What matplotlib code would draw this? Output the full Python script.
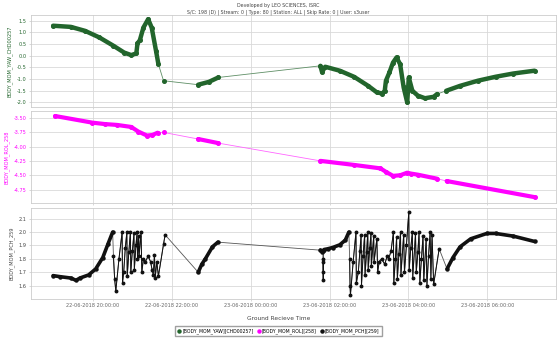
import datetime as dt
import matplotlib
matplotlib.use("Agg")
import matplotlib.pyplot as plt
import matplotlib.dates as mdates
from matplotlib.lines import Line2D

# hours from 22-06-2018 00:00, one list per telemetry pass
yaw_t = [
    [18.99, 19.44, 19.80, 20.16, 20.52, 20.79, 20.97, 21.10, 21.13, 21.19, 21.28, 21.40, 21.49, 21.60, 21.66],
    [21.79],
    [22.67, 22.94, 23.18],
    [25.77, 25.81, 25.89, 26.26, 26.62, 26.98, 27.20, 27.34, 27.40, 27.43, 27.52, 27.61, 27.70, 27.79,
     27.88, 27.97, 28.01, 28.10, 28.24, 28.42, 28.64, 28.73],
    [28.96, 29.31, 29.76, 30.21, 30.66, 31.20],
]
yaw_v = [
    [1.29, 1.24, 1.07, 0.79, 0.43, 0.14, 0.03, 0.10, 0.53, 0.67, 1.21, 1.57, 1.21, 0.21, -0.36],
    [-1.07],
    [-1.24, -1.12, -0.93],
    [-0.43, -0.70, -0.47, -0.64, -0.90, -1.29, -1.57, -1.62, -1.50, -1.07, -0.71, -0.29, -0.07, -0.36,
     -1.36, -2.00, -0.93, -1.50, -1.71, -1.82, -1.76, -1.64],
    [-1.50, -1.29, -1.07, -0.90, -0.76, -0.64],
]

roll_t = [
    [19.04, 19.98, 20.30, 20.61, 20.97, 21.15, 21.37, 21.51, 21.64],
    [21.79],
    [22.67, 23.17],
    [25.77, 26.62, 27.29, 27.43, 27.61, 27.79, 27.97, 28.06, 28.24, 28.73],
    [28.97, 31.20],
]
roll_v = [
    [-3.47, -3.585, -3.61, -3.625, -3.66, -3.74, -3.81, -3.80, -3.76],
    [-3.755],
    [-3.87, -3.94],
    [-4.25, -4.32, -4.38, -4.44, -4.51, -4.50, -4.455, -4.47, -4.49, -4.56],
    [-4.60, -4.88],
]

# pitch: smooth stretches and the oscillating stretches
pitch_smooth_t = [
    [18.99, 19.17, 19.44, 19.57, 19.67, 19.89, 20.07, 20.25, 20.38, 20.50],
    [22.67, 22.76, 22.85, 23.03, 23.17],
    [25.77, 25.80, 25.83, 25.86, 25.95, 26.08, 26.26, 26.40, 26.49],
    [28.98, 29.13, 29.31, 29.58, 29.99, 30.21, 30.66, 31.20],
]
pitch_smooth_v = [
    [1.675, 1.667, 1.657, 1.640, 1.657, 1.680, 1.725, 1.810, 1.910, 2.000],
    [1.700, 1.760, 1.800, 1.890, 1.925],
    [1.865, 1.855, 1.860, 1.870, 1.875, 1.885, 1.905, 1.940, 2.000],
    [1.725, 1.810, 1.890, 1.950, 1.990, 1.990, 1.970, 1.930],
]
pitch_osc_t = [
    [20.52, 20.55, 20.58, 20.66, 20.74, 20.75, 20.78, 20.82, 20.86, 20.87, 20.91, 20.95, 20.96, 21.00,
     21.04, 21.05, 21.09, 21.12, 21.13, 21.16, 21.17, 21.22, 21.24, 21.28, 21.33, 21.40, 21.46, 21.50,
     21.53, 21.56, 21.58, 21.62, 21.66, 21.79, 21.83],
    [25.835, 25.838, 25.841, 25.844],
    [26.51, 26.52, 26.53, 26.60, 26.67, 26.68, 26.73, 26.77, 26.80, 26.81, 26.85, 26.89, 26.90, 26.94,
     26.97, 26.98, 27.02, 27.05, 27.06, 27.12, 27.13, 27.20, 27.22, 27.26, 27.32, 27.40, 27.46, 27.50,
     27.56, 27.62, 27.63, 27.67, 27.70, 27.72, 27.76, 27.80, 27.81, 27.88, 27.90, 27.95, 28.01, 28.02,
     28.06, 28.10, 28.11, 28.18, 28.20, 28.24, 28.27, 28.29, 28.33, 28.37, 28.39, 28.45, 28.47, 28.51,
     28.55, 28.57, 28.60, 28.64, 28.78],
]
pitch_osc_v = [
    [1.82, 1.65, 1.56, 1.80, 2.00, 1.62, 1.70, 1.88, 2.00, 1.67, 1.85, 2.00, 1.70, 1.86,
     1.99, 1.72, 1.90, 2.00, 1.80, 1.97, 1.82, 2.00, 1.70, 1.80, 1.78, 1.82, 1.78, 1.72,
     1.68, 1.83, 1.66, 1.78, 1.67, 1.91, 1.98],
    [1.78, 1.70, 1.64, 1.80],
    [1.80, 1.60, 1.53, 1.78, 2.00, 1.62, 1.70, 1.86, 1.98, 1.60, 1.82, 1.98, 1.68, 1.85,
     2.00, 1.72, 1.88, 1.99, 1.75, 1.97, 1.78, 1.95, 1.70, 1.78, 1.80, 1.76, 1.82, 1.80,
     1.86, 2.00, 1.62, 1.80, 1.96, 1.65, 1.84, 2.00, 1.68, 1.98, 1.70, 1.90, 2.15, 1.72,
     1.88, 2.00, 1.66, 1.99, 1.70, 1.85, 2.00, 1.62, 1.80, 1.97, 1.64, 1.95, 1.60, 1.82,
     2.00, 1.65, 1.98, 1.61, 1.875],
]

yaw_ticks = [1.5, 1.0, 0.5, 0.0, -0.5, -1.0, -1.5, -2.0]
roll_ticks = [-3.50, -3.75, -4.00, -4.25, -4.50, -4.75]
pitch_ticks = [2.1, 2.0, 1.9, 1.8, 1.7, 1.6]

labels = ["[BODY_MOM_YAW][CHD00257]", "[BODY_MOM_ROL][258]", "[BODY_MOM_PCH][259]"]
ylabels = ["BODY_MOM_YAW_CHD00257", "BODY_MOM_ROL_258", "BODY_MOM_PCH_259"]
title1 = "Developed by LEO SCIENCES, ISRC"
title2 = "S/C: 198 (D) | Stream: 0 | Type: 80 | Station: ALL | Skip Rate: 0 | User: s3user"

GREEN = "#22652c"
MAGENTA = "#ff00ff"
BLACK = "#111111"
TXT = "#444444"
base = dt.datetime(2018, 6, 22)


def to_dt(hours):
    return [base + dt.timedelta(hours=h) for h in hours]


def flat(lists):
    return [x for l in lists for x in l]


fig = plt.figure(figsize=(5.57, 3.41), dpi=100)
ax1 = fig.add_axes([0.0557, 0.686, 0.943, 0.270])
ax2 = fig.add_axes([0.0557, 0.405, 0.943, 0.270], sharex=ax1)
ax3 = fig.add_axes([0.0557, 0.123, 0.943, 0.267], sharex=ax1)

# thin connectors across gaps
ax1.plot(to_dt(flat(yaw_t)), flat(yaw_v), color="#5f8f66", lw=0.6, zorder=2)
ax2.plot(to_dt(flat(roll_t)), flat(roll_v), color="#ff66ff", lw=0.6, zorder=2)
pt_all = sorted(zip(flat(pitch_smooth_t) + flat(pitch_osc_t), flat(pitch_smooth_v) + flat(pitch_osc_v)))
ax3.plot(to_dt([p[0] for p in pt_all]), [p[1] for p in pt_all], color="#555555", lw=0.6, zorder=2)

# dense samples
for t, v in zip(yaw_t, yaw_v):
    ax1.plot(to_dt(t), v, color=GREEN, lw=3.2, marker="o", ms=2.6,
             solid_capstyle="round", solid_joinstyle="round", zorder=3)
for t, v in zip(roll_t, roll_v):
    ax2.plot(to_dt(t), v, color=MAGENTA, lw=3.0, marker="o", ms=2.6,
             solid_capstyle="round", solid_joinstyle="round", zorder=3)
for t, v in zip(pitch_smooth_t, pitch_smooth_v):
    ax3.plot(to_dt(t), v, color=BLACK, lw=2.6, marker="o", ms=2.2,
             solid_capstyle="round", solid_joinstyle="round", zorder=3)
for t, v in zip(pitch_osc_t, pitch_osc_v):
    ax3.plot(to_dt(t), v, color=BLACK, lw=0.7, marker="o", ms=1.8, zorder=3)

ax1.set_ylim(-2.2, 1.75)
ax2.set_ylim(-4.98, -3.38)
ax3.set_ylim(1.50, 2.18)
ax1.set_xlim(base + dt.timedelta(hours=18.43), base + dt.timedelta(hours=31.75))

for ax, ticks, lab, col in [(ax1, yaw_ticks, ylabels[0], GREEN),
                            (ax2, roll_ticks, ylabels[1], MAGENTA),
                            (ax3, pitch_ticks, ylabels[2], BLACK)]:
    ax.set_yticks(ticks)
    ax.set_yticklabels([f"{v:.2f}" if ax is ax2 else f"{v:.1f}" for v in ticks])
    ax.grid(True, color="#d9d9d9", lw=0.6)
    ax.set_axisbelow(True)
    for s in ax.spines.values():
        s.set_color("#cccccc")
        s.set_linewidth(0.6)
    ax.tick_params(labelsize=3.6, length=1.5, width=0.4, color="#bbbbbb",
                   labelcolor=col if col != BLACK else TXT, pad=1.5)
    ax.set_ylabel(lab, fontsize=3.6, color=col if col != BLACK else TXT, labelpad=3)

ax1.xaxis.set_major_locator(mdates.HourLocator(byhour=range(0, 24, 2)))
ax3.xaxis.set_major_formatter(mdates.DateFormatter("%d-%m-%Y %H:%M:%S"))
ax1.tick_params(labelbottom=False)
ax2.tick_params(labelbottom=False)
ax3.tick_params(axis="x", labelcolor="#666666")

fig.text(0.5, 0.992, title1, ha="center", va="top", fontsize=3.4, color=TXT)
fig.text(0.5, 0.972, title2, ha="center", va="top", fontsize=3.4, color=TXT)
fig.text(0.5, 0.067, "Ground Recieve Time", ha="center", va="center", fontsize=4.2, color=TXT)

handles = [Line2D([], [], ls="none", marker="o", ms=2.2, color=c) for c in (GREEN, MAGENTA, BLACK)]
fig.legend(handles, labels, loc="center", bbox_to_anchor=(0.5, 0.029), ncol=3, fontsize=3.3,
           frameon=True, edgecolor="#888888", fancybox=False, handletextpad=0.3,
           columnspacing=0.7, handlelength=0.8, borderpad=0.5)

fig.savefig("out.png", dpi=100)
